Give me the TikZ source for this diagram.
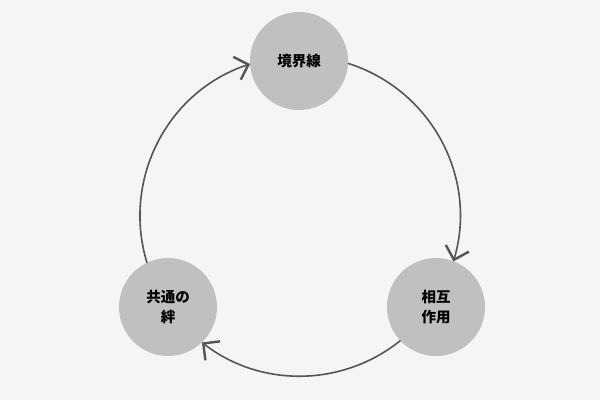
\documentclass[tikz,border=0pt]{standalone}
\usepackage{fontspec}
\newfontfamily\cjk{Noto Sans CJK JP}
\usetikzlibrary{arrows.meta,calc}
\definecolor{bg}{HTML}{F5F5F5}
\definecolor{nodefill}{HTML}{C0C0C0}
\definecolor{linecol}{HTML}{555555}
\begin{document}
\begin{tikzpicture}[x=1pt,y=-1pt,
  stage/.style={circle,fill=nodefill,minimum size=98pt,inner sep=0pt,
    font=\cjk\bfseries\fontsize{14.5pt}{20pt}\selectfont,align=center,text=black},
  link/.style={draw=linecol,line width=1.6pt,
    -{Straight Barb[length=12pt,width=24pt,line width=2.4pt]}}]
\fill[bg] (0,0) rectangle (600,400);
\useasboundingbox (0,0) rectangle (600,400);
\coordinate (c) at (300,216);
\node[stage] (top) at (299,61) {境界線};
\node[stage] (br) at (436,307) {相互\\作用};
\node[stage] (bl) at (168,307) {共通の\\絆};
\draw[link] ($(c)+(-72.6:160)$) arc[start angle=-72.6,end angle=16.5,radius=160];
\draw[link] ($(c)+(51.1:160)$) arc[start angle=51.1,end angle=127.8,radius=160];
\draw[link] ($(c)+(163:160)$) arc[start angle=163,end angle=251.8,radius=160];
\end{tikzpicture}
\end{document}
